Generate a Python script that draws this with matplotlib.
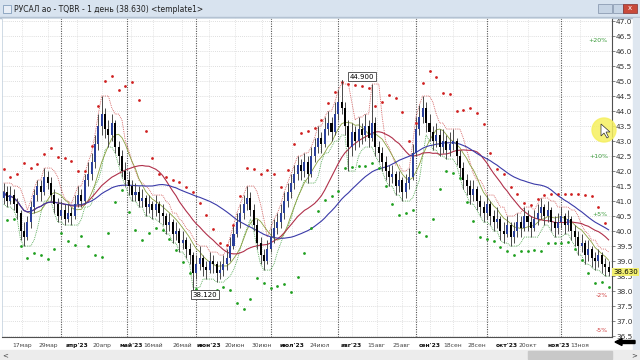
import numpy as np
import pandas as pd
import matplotlib.pyplot as plt
from matplotlib.patches import Rectangle, Ellipse, Polygon

W, H = 640, 360

# daily bars (RUSAL, TQBR, 1 day)
opens = [41.1, 41.3, 41.0, 41.2, 40.9, 40.6, 40.0, 39.8, 40.3, 40.8,
         41.2, 41.5, 41.3, 41.8, 41.6, 41.2, 40.9, 40.5, 40.7, 40.4,
         40.6, 40.5, 40.9, 41.2, 41.0, 41.7, 41.9, 42.3, 42.9, 43.5,
         43.9, 43.4, 43.2, 43.6, 42.8, 42.5, 42.0, 41.7, 41.5, 41.2,
         41.3, 41.0, 41.1, 40.8, 40.9, 40.7, 40.9, 40.6, 40.5, 40.2,
         40.3, 39.9, 40.0, 39.6, 39.7, 39.4, 39.2, 38.6, 38.9, 39.1,
         38.8, 38.7, 39.0, 38.9, 38.6, 38.7, 38.9, 39.1, 39.5, 39.9,
         40.3, 40.6, 40.9, 41.1, 40.7, 40.2, 39.6, 39.2, 39.0, 39.4,
         39.8, 40.1, 40.3, 40.6, 41.0, 41.3, 41.6, 41.9, 42.2, 42.0,
         42.3, 41.9, 42.5, 42.8, 43.1, 42.9, 43.4, 43.6, 43.3, 43.9,
         44.3, 44.1, 43.5, 42.8, 43.3, 43.0, 43.4, 43.2, 43.5, 43.1,
         43.6, 42.8, 42.6, 42.3, 42.0, 41.8, 41.9, 41.5, 41.7, 41.3,
         41.6, 41.8, 42.6, 43.4, 43.8, 44.1, 43.6, 43.3, 43.0, 43.2,
         42.8, 43.0, 42.7, 42.9, 43.0, 42.5, 42.1, 41.7, 41.5, 41.2,
         41.4, 41.0, 40.8, 40.6, 40.9, 40.5, 40.3, 40.4, 40.0, 39.9,
         40.2, 39.8, 40.0, 40.3, 40.1, 40.5, 40.3, 40.1, 40.4, 40.6,
         40.8, 40.5, 40.7, 40.3, 40.1, 40.3, 40.5, 40.2, 40.4, 40.0,
         39.8, 39.5, 39.6, 39.2, 39.4, 39.1, 39.0, 39.2, 38.9, 38.8]
highs = [41.6, 41.5, 41.5, 41.4, 41.1, 40.7, 40.3, 40.5, 41.0, 41.4,
         41.7, 41.7, 42.1, 42.0, 41.8, 41.4, 41.1, 41.0, 40.9, 40.9,
         40.8, 41.2, 41.5, 41.4, 41.9, 42.3, 42.6, 43.2, 43.9, 44.5,
         44.1, 43.7, 43.9, 43.7, 43.0, 42.7, 42.3, 42.0, 41.7, 41.6,
         41.5, 41.4, 41.2, 41.2, 41.0, 41.2, 41.0, 40.9, 40.6, 40.6,
         40.4, 40.3, 40.1, 40.0, 39.8, 39.6, 39.3, 39.2, 39.5, 39.2,
         39.0, 39.3, 39.2, 39.0, 39.0, 39.2, 39.4, 39.8, 40.2, 40.6,
         40.9, 41.2, 41.5, 41.3, 40.9, 40.4, 39.8, 39.4, 39.7, 40.1,
         40.4, 40.6, 40.9, 41.3, 41.6, 41.9, 42.2, 42.5, 42.4, 42.6,
         42.5, 42.8, 43.1, 43.5, 43.3, 43.8, 44.0, 43.8, 44.3, 44.7,
         44.9, 44.3, 43.7, 43.6, 43.5, 43.8, 43.6, 43.9, 43.7, 44.9,
         43.8, 43.0, 42.8, 42.5, 42.2, 42.2, 42.0, 42.0, 41.8, 41.9,
         42.1, 42.9, 43.8, 44.2, 44.5, 44.3, 43.9, 43.5, 43.6, 43.4,
         43.4, 43.2, 43.3, 43.4, 43.1, 42.7, 42.3, 41.9, 41.7, 41.7,
         41.5, 41.2, 41.0, 41.2, 41.0, 40.7, 40.8, 40.5, 40.3, 40.5,
         40.3, 40.3, 40.6, 40.5, 40.8, 40.7, 40.5, 40.7, 40.9, 41.1,
         40.9, 41.0, 40.8, 40.5, 40.6, 40.8, 40.6, 40.7, 40.5, 40.2,
         40.0, 39.9, 39.7, 39.7, 39.5, 39.3, 39.4, 39.3, 39.1, 39.0]
lows = [40.9, 40.8, 40.9, 40.7, 40.4, 39.7, 39.5, 39.7, 40.1, 40.6,
        41.0, 41.0, 41.2, 41.4, 41.0, 40.6, 40.3, 40.4, 40.2, 40.3,
        40.2, 40.4, 40.8, 40.8, 40.9, 41.5, 41.7, 42.1, 42.7, 43.2,
        43.1, 42.8, 43.0, 42.6, 42.2, 41.8, 41.5, 41.2, 41.0, 41.0,
        40.8, 40.8, 40.5, 40.6, 40.4, 40.5, 40.3, 40.2, 39.9, 40.0,
        39.6, 39.7, 39.3, 39.4, 39.1, 38.9, 38.12, 38.4, 38.7, 38.5,
        38.4, 38.6, 38.6, 38.3, 38.4, 38.5, 38.7, 39.0, 39.4, 39.8,
        40.1, 40.4, 40.7, 40.5, 40.0, 39.4, 38.9, 38.7, 38.9, 39.3,
        39.6, 39.9, 40.1, 40.4, 40.8, 41.1, 41.4, 41.7, 41.7, 41.8,
        41.6, 41.8, 42.3, 42.6, 42.6, 42.8, 43.2, 43.0, 43.2, 43.7,
        43.9, 43.2, 42.0, 42.5, 42.7, 42.8, 42.9, 43.0, 42.8, 43.0,
        42.5, 42.3, 42.0, 41.7, 41.5, 41.6, 41.2, 41.3, 41.0, 41.1,
        41.4, 41.7, 42.5, 43.2, 43.6, 43.3, 43.0, 42.7, 42.8, 42.5,
        42.6, 42.4, 42.5, 42.7, 42.2, 41.8, 41.4, 41.2, 40.9, 41.0,
        40.7, 40.5, 40.3, 40.4, 40.2, 40.0, 40.1, 39.7, 39.6, 39.8,
        39.5, 39.6, 39.8, 39.8, 40.0, 40.0, 39.8, 40.0, 40.2, 40.4,
        40.2, 40.3, 40.0, 39.8, 39.9, 40.1, 39.9, 40.0, 39.7, 39.5,
        39.2, 39.3, 38.9, 39.0, 38.8, 38.7, 38.8, 38.6, 38.5, 38.5]
closes = [41.3, 41.0, 41.2, 40.9, 40.6, 40.0, 39.8, 40.3, 40.8, 41.2,
          41.5, 41.3, 41.8, 41.6, 41.2, 40.9, 40.5, 40.7, 40.4, 40.6,
          40.5, 40.9, 41.2, 41.0, 41.7, 41.9, 42.3, 42.9, 43.5, 43.9,
          43.4, 43.2, 43.6, 42.8, 42.5, 42.0, 41.7, 41.5, 41.2, 41.3,
          41.0, 41.1, 40.8, 40.9, 40.7, 40.9, 40.6, 40.5, 40.2, 40.3,
          39.9, 40.0, 39.6, 39.7, 39.4, 39.2, 38.6, 38.9, 39.1, 38.8,
          38.7, 39.0, 38.9, 38.6, 38.7, 38.9, 39.1, 39.5, 39.9, 40.3,
          40.6, 40.9, 41.1, 40.7, 40.2, 39.6, 39.2, 39.0, 39.4, 39.8,
          40.1, 40.3, 40.6, 41.0, 41.3, 41.6, 41.9, 42.2, 42.0, 42.3,
          41.9, 42.5, 42.8, 43.1, 42.9, 43.4, 43.6, 43.3, 43.9, 44.3,
          44.1, 43.5, 42.8, 43.3, 43.0, 43.4, 43.2, 43.5, 43.1, 43.6,
          42.8, 42.6, 42.3, 42.0, 41.8, 41.9, 41.5, 41.7, 41.3, 41.6,
          41.8, 42.6, 43.4, 43.8, 44.1, 43.6, 43.3, 43.0, 43.2, 42.8,
          43.0, 42.7, 42.9, 43.0, 42.5, 42.1, 41.7, 41.5, 41.2, 41.4,
          41.0, 40.8, 40.6, 40.9, 40.5, 40.3, 40.4, 40.0, 39.9, 40.2,
          39.8, 40.0, 40.3, 40.1, 40.5, 40.3, 40.1, 40.4, 40.6, 40.8,
          40.5, 40.7, 40.3, 40.1, 40.3, 40.5, 40.2, 40.4, 40.0, 39.8,
          39.5, 39.6, 39.2, 39.4, 39.1, 39.0, 39.2, 38.9, 38.8, 38.63]

date_labels = ['17мар', '29мар', "апр'23", '20апр', "май'23", '16май', '26май',
               "июн'23", '20июн', '30июн', "июл'23", '24июл', "авг'23", '15авг',
               '25авг', "сен'23", '18сен', '28сен', "окт'23", '20окт', "ноя'23",
               '13ноя']
pct_labels = ['+20%', '+10%', '+5%', '-2%', '-5%']
pct_factors = [1.20, 1.10, 1.05, 0.98, 0.95]

# layout (bar-index positions of the date labels and month separators)
date_pos = [5.4, 13.1, 21.7, 29.1, 37.7, 44.2, 52.8, 60.7, 68.4, 76.4, 85.3,
            93.6, 103, 110.4, 117.8, 126.1, 132.9, 140, 148.9, 155.1, 164.3, 170.5]
month_lines = [17, 36.5, 57, 79, 99, 122, 143, 165]

o = np.array(opens)
h = np.array(highs)
l = np.array(lows)
c = np.array(closes)
x = np.arange(len(c))
cs = pd.Series(c)

# indicators
ma_fast = cs.rolling(8, min_periods=1).mean()
ma_mid = cs.rolling(20, min_periods=1).mean()
ma_slow = cs.rolling(40, min_periods=1).mean()
env_hi = pd.Series(h).rolling(3, min_periods=1).max()
env_lo = pd.Series(l).rolling(3, min_periods=1).min()
bb_mid = cs.rolling(10, min_periods=1).mean()
bb_sd = cs.rolling(10, min_periods=2).std().bfill()
bb_up = bb_mid + 2.2 * bb_sd + 0.3
bb_dn = bb_mid - 2.2 * bb_sd - 0.3


def fx(px):
    return px / W


def fy(py):
    return 1 - py / H


def rect(x0, y0, w, hgt, **kw):
    fig.add_artist(Rectangle((fx(x0), fy(y0 + hgt)), w / W, hgt / H,
                             transform=fig.transFigure, **kw))


fig = plt.figure(figsize=(6.4, 3.6), dpi=100)
fig.patch.set_facecolor('white')
ax = fig.add_axes([2 / W, 23 / H, 610 / W, 319 / H])

ax.set_xlim(-0.5, 180)
ax.set_ylim(36.47, 47.1)

# grid
yt = np.arange(36.5, 47.01, 0.5)
for v in yt:
    ax.axhline(v, color='#d4d4d4', lw=0.6, ls=(0, (1, 1.5)), zorder=0)
for p in date_pos:
    ax.axvline(p, color='#dadada', lw=0.6, ls=(0, (1, 1.5)), zorder=0)
for p in month_lines:
    ax.axvline(p, color='#555555', lw=0.8, ls=(0, (1, 1.2)), zorder=1)

# envelopes and moving averages
ax.plot(x, env_hi, color='#d05050', lw=0.6, ls=(0, (1, 1.2)), zorder=2)
ax.plot(x, env_lo, color='#40a040', lw=0.6, ls=(0, (1, 1.2)), zorder=2)
ax.plot(x, ma_fast, color='#8aa040', lw=0.6, zorder=3)
ax.plot(x, ma_mid, color='#b0304a', lw=0.8, zorder=3)
ax.plot(x, ma_slow, color='#3a3aa8', lw=0.8, zorder=3)

# candles
up = c >= o
ax.vlines(x, l, h, color='#4a4a4a', lw=0.7, zorder=4)
ax.bar(x[~up], (o - c)[~up], bottom=c[~up], width=0.6, color='black', zorder=5)
ax.bar(x[up], np.maximum((c - o)[up], 0.04), bottom=o[up], width=0.6,
       color='#2a3f9a', zorder=5)

# dots
ax.scatter(x[::2], bb_up[::2], s=4, color='#d02020', lw=0, zorder=6)
ax.scatter(x[1::2], bb_dn[1::2], s=4, color='#20a020', lw=0, zorder=6)

# high / low labels
i_hi = int(np.argmax(h))
i_lo = int(np.argmin(l))
box = dict(boxstyle='square,pad=0.25', fc='white', ec='#404040', lw=0.6)
ax.plot([i_hi, i_hi], [h[i_hi], 45.05], color='#303030', lw=0.6, zorder=6)
ax.text(106, 45.15, f'{h[i_hi]:.3f}', fontsize=5, ha='center', va='center',
        bbox=box, zorder=7)
ax.plot([i_lo, i_lo, 58], [l[i_lo], 37.88, 37.88], color='#303030', lw=0.6, zorder=6)
ax.text(59.6, 37.88, f'{l[i_lo]:.3f}', fontsize=5, ha='center', va='center',
        bbox=box, zorder=7)

# percentage levels from the last close
last = c[-1]
for lab, f in zip(pct_labels, pct_factors):
    col = '#3a9a3a' if lab.startswith('+') else '#d04040'
    ax.text(178.8, last * f, lab, fontsize=4.5, color=col, ha='right', va='center')

# axes styling
ax.yaxis.tick_right()
ax.set_yticks(yt)
ax.set_yticklabels([f'{v:.1f}' for v in yt], fontsize=5.3, color='#333333')
ax.tick_params(axis='y', length=2, pad=1, width=0.5, colors='#555555',
               labelcolor='#333333')
ax.set_xticks(date_pos)
ax.set_xticklabels(date_labels, fontsize=4.3, color='#444444')
for t in ax.get_xticklabels():
    if "'" in t.get_text():
        t.set_fontweight('bold')
        t.set_color('#111111')
ax.tick_params(axis='x', length=0, pad=4.5)
for s in ['left', 'top']:
    ax.spines[s].set_color('#c8d4e0')
    ax.spines[s].set_linewidth(0.6)
for s in ['right', 'bottom']:
    ax.spines[s].set_color('#505050')
    ax.spines[s].set_linewidth(0.8)

# last price marker, drawn over the neighbouring scale label
fig.text(fx(613), fy(272), f'{last:.3f}', fontsize=5, ha='left', va='center',
         zorder=12, bbox=dict(boxstyle='square,pad=0.2', fc='#f2f070', ec='none'))

# window chrome
rect(0, 0, 640, 18, color='#d8e3ef', zorder=0)
rect(0, 17, 640, 1, color='#b4c2d2', zorder=0)
rect(3, 5, 8, 8, color='#e8eef6', ec='#7090b0', lw=0.5)
fig.text(fx(14), fy(9.5), 'РУСАЛ ао - TQBR - 1 день (38.630) <template1>',
         fontsize=5.5, color='#202020', va='center', ha='left')
rect(598, 4, 14, 9, color='#c6d4e4', ec='#8090a8', lw=0.5)
rect(613, 4, 10, 9, color='#c6d4e4', ec='#8090a8', lw=0.5)
rect(623, 4, 14, 9, color='#c94a3a', ec='#803030', lw=0.5)
fig.text(fx(630), fy(8.5), 'x', fontsize=5, color='white', ha='center', va='center')
rect(633, 18, 7, 332, color='#dfe7f0')
rect(0, 350, 640, 10, color='#ececec')
rect(528, 351, 84, 8, color='#c8c8c8')
fig.text(fx(5), fy(355), '<', fontsize=5, color='#404040', ha='center', va='center')
fig.text(fx(634), fy(355), '>', fontsize=5, color='#404040', ha='center', va='center')
arrow = [(615, 342), (622, 338.5), (622, 340.5), (635, 340.5), (635, 343.5),
         (622, 343.5), (622, 345.5)]
fig.add_artist(Polygon([(fx(a), fy(b)) for a, b in arrow], closed=True,
                       color='black', transform=fig.transFigure))

# mouse pointer highlight
fig.add_artist(Ellipse((fx(604), fy(130)), 24 / W, 24 / H, color='#f6f060',
                       alpha=0.85, transform=fig.transFigure, zorder=10))
ptr = [(601, 124), (601, 136), (604, 133), (607, 138), (608.5, 137), (606, 132), (610, 132)]
fig.add_artist(Polygon([(fx(a), fy(b)) for a, b in ptr], closed=True, fc='white',
                       ec='#303030', lw=0.5, transform=fig.transFigure, zorder=11))

fig.savefig('out.png', dpi=100)
